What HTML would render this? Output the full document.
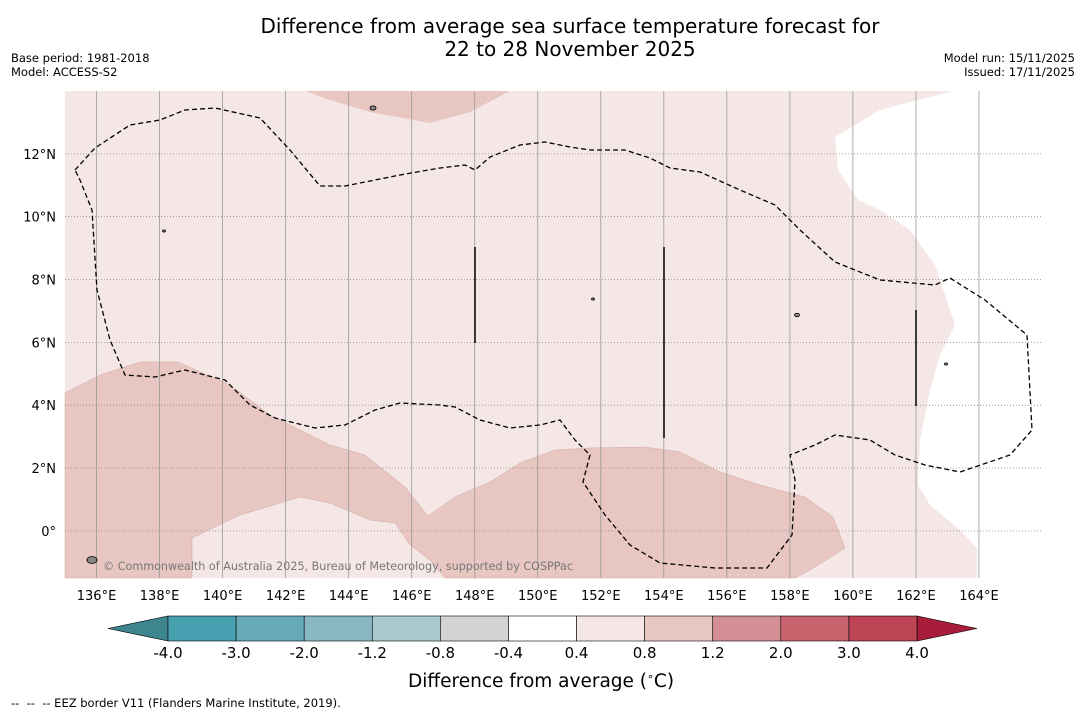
<!DOCTYPE html>
<html><head><meta charset="utf-8"><style>
body{margin:0;background:#fff;font-family:"DejaVu Sans","Liberation Sans",sans-serif;}
#wrap{position:relative;width:1085px;height:713px;overflow:hidden;background:#fff}
.t{position:absolute;font-size:11.5px;color:#000}
</style></head><body>
<div id="wrap">
<div class="t" style="left:0;width:1140px;top:15px;text-align:center;font-size:20px;line-height:23px">Difference from average sea surface temperature forecast for<br>22 to 28 November 2025</div>
<div class="t" style="left:11px;top:51px;line-height:14px">Base period: 1981-2018<br>Model: ACCESS-S2</div>
<div class="t" style="right:10px;top:51px;line-height:14px;text-align:right">Model run: 15/11/2025<br>Issued: 17/11/2025</div>
<svg id="svg" width="1085" height="713" style="position:absolute;left:0;top:0"></svg>
<div class="t" style="left:408px;top:670px;font-size:18.5px">Difference from average (<sup style="font-size:11px">∘</sup>C)</div>
<div class="t" style="left:11px;top:696px;font-size:11.5px">--&nbsp; --&nbsp; -- EEZ border V11 (Flanders Marine Institute, 2019).</div>
</div>
<script>
const lonTicks=[136,138,140,142,144,146,148,150,152,154,156,158,160,162,164];
const latTicks=[0,2,4,6,8,10,12];
const cbLabels=["-4.0","-3.0","-2.0","-1.2","-0.8","-0.4","0.4","0.8","1.2","2.0","3.0","4.0"];
const cbColors=["#48a0b0","#67abba","#89b8c4","#a9c9cf","#d2d4d4","#ffffff","#f4e7e5","#e8c6c2","#d48f95","#c9636e","#bd4556"];
const lonMin=135,lonMax=166,latMin=-1.5,latMax=14;
const X0=65,X1=1042,Y0=91,Y1=578;
const xs=l=>X0+(l-lonMin)/(lonMax-lonMin)*(X1-X0);
const ys=l=>Y1-(l-latMin)/(latMax-latMin)*(Y1-Y0);
const svg=document.getElementById('svg');
const NS="http://www.w3.org/2000/svg";
function mk(t,a,p){const e=document.createElementNS(NS,t);for(const k in a)e.setAttribute(k,a[k]);(p||svg).appendChild(e);return e;}
let e;
e=mk('rect',{x:X0,y:Y0,width:X1-X0,height:Y1-Y0,fill:'#f4e7e5'});


const dark="#e8c6c2";
e=mk('polygon',{points:"305,91 330,100 370,112 430,123 470,112 510,91",fill:dark});


e=mk('polygon',{points:"65,393 100,375 140,362 178,362 230,385 270,415 330,445 365,455 405,487 428,516 455,497 490,482 520,463 555,450 590,448 645,447 680,452 720,472 760,485 805,497 833,517 845,548 810,570 795,578 445,578 430,560 410,545 395,523 370,520 330,503 300,497 240,515 192,538 192,578 65,578",fill:dark,stroke:'#cfa9a5','stroke-width':0.5});


e=mk('polygon',{points:"953,91 880,110 835,137 838,170 858,200 880,210 910,230 935,265 955,325 940,355 930,390 920,440 918,485 930,505 960,530 977,548 977,578 1042,578 1042,91",fill:'#fff'});


lonTicks.forEach(l=>{
 e=mk('line',{x1:xs(l),x2:xs(l),y1:Y0,y2:Y1,stroke:'#999','stroke-width':0.8});
 
 
 e=mk('text',{x:xs(l),y:600,'text-anchor':'middle','font-size':13,'font-family':'DejaVu Sans, sans-serif'});
 e.textContent=l+'°E';
 
 
});
latTicks.forEach(l=>{
 e=mk('line',{x1:X0,x2:X1,y1:ys(l),y2:ys(l),stroke:'#888','stroke-width':0.8,'stroke-dasharray':'1,2'});
 
 
 e=mk('text',{x:56,y:ys(l)+5,'text-anchor':'end','font-size':13,'font-family':'DejaVu Sans, sans-serif'});
 e.textContent=l===0?'0°':l+'°N';
 
 
});
e=mk('polygon',{points:"75,170 95,148 130,125 160,120 185,110 215,108 260,118 290,150 320,186 345,186 400,175 440,168 465,165 475,170 490,157 520,145 545,142 570,147 590,150 625,150 650,158 670,168 700,172 740,190 775,205 800,230 835,262 880,280 935,285 950,278 985,300 1027,335 1032,430 1010,455 960,472 925,465 895,455 870,440 835,435 815,445 790,455 795,480 792,535 767,568 715,568 660,563 630,545 605,515 583,482 590,455 575,440 560,420 540,425 510,428 480,420 455,407 440,405 400,403 375,410 345,425 315,428 275,418 250,405 230,385 225,380 185,370 155,377 125,375 110,340 97,290 92,210 80,180",fill:'none',stroke:'#000','stroke-width':1.3,'stroke-dasharray':'5,3'});


[[475,247,343],[664,247,438],[916,310,406]].forEach(v=>{
 e=mk('line',{x1:v[0],x2:v[0],y1:v[1],y2:v[2],stroke:'#000','stroke-width':1.5});
 
 
});
[[373,108,3],[797,315,2.5],[164,231,1.5],[593,299,1.5],[946,364,1.5],[92,560,5]].forEach(p=>{
 e=mk('ellipse',{cx:p[0],cy:p[1],rx:p[2],ry:p[2]*0.7,fill:'#888',stroke:'#000','stroke-width':0.8});
 
 
});
e=mk('text',{x:103,y:570,'font-size':11.5,fill:'#777','font-family':'DejaVu Sans, sans-serif',textLength:470,lengthAdjust:'spacingAndGlyphs'});
e.textContent='© Commonwealth of Australia 2025, Bureau of Meteorology, supported by COSPPac';


const cbX0=168,cbX1=917,cy0=616,cy1=641,bw=(cbX1-cbX0)/cbColors.length;
e=mk('polygon',{points:`${cbX0},${cy0} ${cbX0},${cy1} 108,${(cy0+cy1)/2}`,fill:'#3f858f',stroke:'#000','stroke-width':0.6});


e=mk('polygon',{points:`${cbX1},${cy0} ${cbX1},${cy1} 977,${(cy0+cy1)/2}`,fill:'#a81d3a',stroke:'#000','stroke-width':0.6});


cbColors.forEach((c,i)=>{
 e=mk('rect',{x:cbX0+i*bw,y:cy0,width:bw,height:cy1-cy0,fill:c,stroke:'#000','stroke-width':0.6});
 
 
});
cbLabels.forEach((t,i)=>{
 e=mk('text',{x:cbX0+i*bw,y:658,'text-anchor':'middle','font-size':15,'font-family':'DejaVu Sans, sans-serif'});
 e.textContent=t;
 
 
});
</script>
</body></html>
